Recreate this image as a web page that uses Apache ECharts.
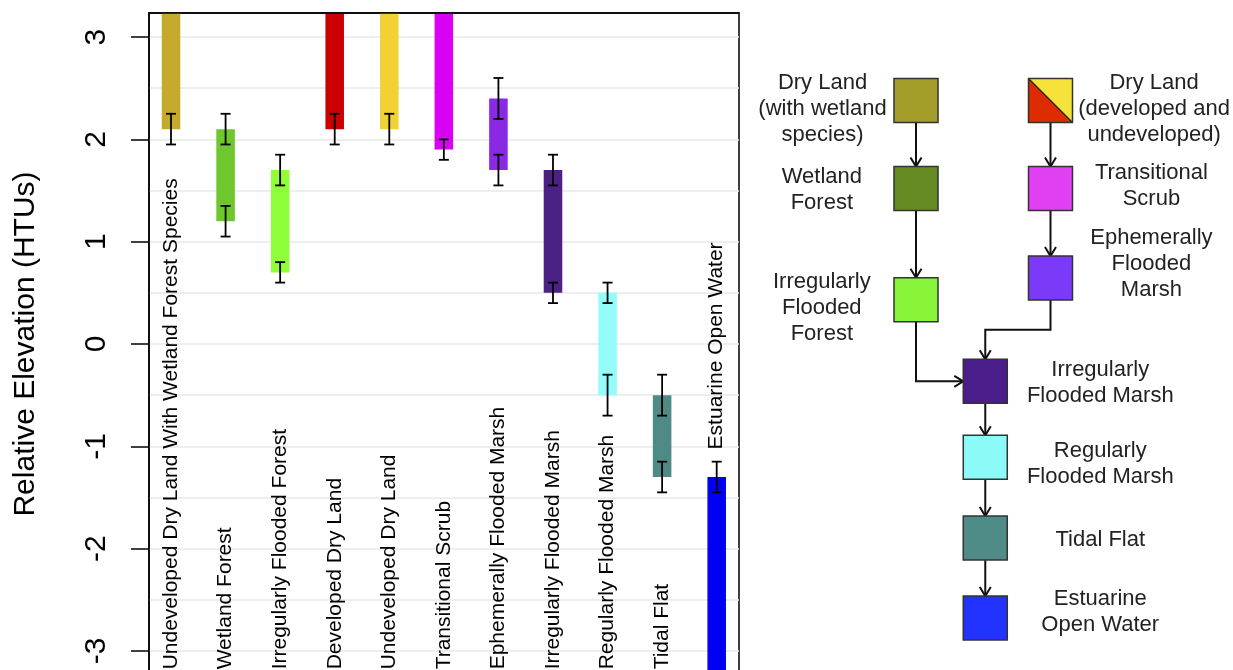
<!DOCTYPE html>
<html><head><meta charset="utf-8">
<script src="https://cdn.jsdelivr.net/npm/echarts@6/dist/echarts.min.js"></script>
<style>html,body{margin:0;padding:0;background:#fff}#c{width:1233px;height:670px}</style>
</head><body><div id="c"></div>
<script>
// ---------- bar chart data ----------
const categories = ["Undeveloped Dry Land With Wetland Forest Species","Wetland Forest","Irregularly Flooded Forest","Developed Dry Land","Undeveloped Dry Land","Transitional Scrub","Ephemerally Flooded Marsh","Irregularly Flooded Marsh","Regularly Flooded Marsh","Tidal Flat","Estuarine Open Water"];
const barLow  = [2.1, 1.2, 0.7, 2.1, 2.1, 1.9, 1.7, 0.5, -0.5, -1.3, -3.5];
const barHigh = [3.5, 2.1, 1.7, 3.5, 3.5, 3.5, 2.4, 1.7, 0.5, -0.5, -1.3];
const lowErr  = [0.15, 0.15, 0.1, 0.15, 0.15, 0.1, 0.15, 0.1, 0.2, 0.15, null];
const highErr = [null, 0.15, 0.15, null, null, null, 0.2, 0.15, 0.1, 0.2, 0.15];
const labelBase = [-3.18, -3.18, -3.18, -3.18, -3.18, -3.18, -3.18, -3.18, -3.18, -3.18, -1.03];
const barColors = ["#C6AA2C","#6FC72E","#8FFF3A","#CC0000","#F2D232","#DA00F5","#8A28E6","#4B2184","#94FCFA","#508A87","#0000F2"];
const yTicks = [-3, -2, -1, 0, 1, 2, 3];
const yTitle = "Relative Elevation (HTUs)";

// ---------- flow diagram data ----------
const nodeNames = ["Dry Land (with wetland species)","Wetland Forest","Irregularly Flooded Forest","Dry Land (developed and undeveloped)","Transitional Scrub","Ephemerally Flooded Marsh","Irregularly Flooded Marsh","Regularly Flooded Marsh","Tidal Flat","Estuarine Open Water"];
const nodeCols = [0, 0, 0, 2, 2, 2, 1.03, 1.03, 1.03, 1.03];
const nodeRows = [1.0, 2.1, 3.49, 1.0, 2.1, 3.22, 4.51, 5.46, 6.47, 7.47];
const nodeColors  = ["#A59D2A","#668B22","#88F53B","#DD2C00","#E140F2","#7B3AF7","#4A1E8A","#8CFBF8","#4F8C88","#2233FF"];
const nodeColors2 = [null,null,null,"#F5E33A",null,null,null,null,null,null];
const edgeFrom = [0, 1, 3, 4, 2, 5, 6, 7, 8];
const edgeTo   = [1, 2, 4, 5, 6, 6, 7, 8, 9];
const edgeKind = ["v","v","v","v","right","down","v","v","v"];
const flowLabels = ["Dry Land\n(with wetland\nspecies)","Wetland\nForest","Irregularly\nFlooded\nForest","Dry Land\n(developed and\nundeveloped)","Transitional\nScrub","Ephemerally\nFlooded\nMarsh","Irregularly\nFlooded Marsh","Regularly\nFlooded Marsh","Tidal Flat","Estuarine\nOpen Water"];
const flowLabelCols = [-1.39, -1.40, -1.40, 3.54, 3.50, 3.50, 2.74, 2.74, 2.74, 2.74];
const flowLabelRows = [1.10, 2.12, 3.59, 1.10, 2.07, 3.04, 4.53, 5.54, 6.49, 7.39];

const FONT = "'Liberation Sans', Arial, sans-serif";
const BAR_W = 0.34, CAP = 10, NODE = 44;

function renderBar(params, api) {
  const i = params.dataIndex;
  const x = api.value(0), lo = api.value(1), hi = api.value(2);
  const cs = params.coordSys;
  const pLo = api.coord([x, lo]), pHi = api.coord([x, hi]);
  const w = api.size([BAR_W, 0])[0];
  let top = Math.max(pHi[1], cs.y), bot = Math.min(pLo[1], cs.y + cs.height);
  const ch = [{type:'rect', shape:{x:pLo[0]-w/2, y:top, width:w, height:bot-top}, style:{fill:barColors[i]}}];
  const addErr = (v, e) => {
    if (e == null) return;
    const a = api.coord([x, v + e]), b = api.coord([x, v - e]);
    const st = {stroke:'#000', lineWidth:1.8};
    ch.push({type:'line', shape:{x1:a[0], y1:a[1], x2:b[0], y2:b[1]}, style:st});
    ch.push({type:'line', shape:{x1:a[0]-CAP/2, y1:a[1], x2:a[0]+CAP/2, y2:a[1]}, style:st});
    ch.push({type:'line', shape:{x1:b[0]-CAP/2, y1:b[1], x2:b[0]+CAP/2, y2:b[1]}, style:st});
  };
  addErr(lo, lowErr[i]);
  addErr(hi, highErr[i]);
  return {type:'group', children: ch};
}

function renderCatLabel(params, api) {
  const i = params.dataIndex;
  const p = api.coord([api.value(0), api.value(1)]);
  return {type:'text', x:p[0], y:p[1], rotation:Math.PI/2,
    style:{text:categories[i], fill:'#000', font:'21px ' + FONT, align:'left', verticalAlign:'middle'}};
}

function renderNode(params, api) {
  const i = params.dataIndex;
  const p = api.coord([api.value(0), api.value(1)]);
  const h = NODE/2, x0 = p[0]-h, y0 = p[1]-h;
  const ch = [];
  if (nodeColors2[i]) {
    ch.push({type:'polygon', shape:{points:[[x0,y0],[x0,y0+NODE],[x0+NODE,y0+NODE]]}, style:{fill:nodeColors[i]}});
    ch.push({type:'polygon', shape:{points:[[x0,y0],[x0+NODE,y0],[x0+NODE,y0+NODE]]}, style:{fill:nodeColors2[i]}});
    ch.push({type:'line', shape:{x1:x0,y1:y0,x2:x0+NODE,y2:y0+NODE}, style:{stroke:'#222', lineWidth:1.2}});
    ch.push({type:'rect', shape:{x:x0,y:y0,width:NODE,height:NODE}, style:{fill:null, stroke:'#333', lineWidth:1.5}});
  } else {
    ch.push({type:'rect', shape:{x:x0,y:y0,width:NODE,height:NODE}, style:{fill:nodeColors[i], stroke:'#333', lineWidth:1.5}});
  }
  return {type:'group', children: ch};
}

function renderEdge(params, api) {
  const k = params.dataIndex;
  const a = api.coord([api.value(0), api.value(1)]);
  const b = api.coord([api.value(2), api.value(3)]);
  const h = NODE/2;
  let pts, dir;
  if (edgeKind[k] === 'v') { pts = [[a[0], a[1]+h], [b[0], b[1]-h]]; dir = [0,1]; }
  else if (edgeKind[k] === 'right') { pts = [[a[0], a[1]+h], [a[0], b[1]], [b[0]-h, b[1]]]; dir = [1,0]; }
  else { const ym = ((a[1]+h) + (b[1]-h))/2; pts = [[a[0], a[1]+h], [a[0], ym], [b[0], ym], [b[0], b[1]-h]]; dir = [0,1]; }
  const tip = pts[pts.length-1];
  const L = 9, W = 5.5;
  const perp = [-dir[1], dir[0]];
  const head = [[tip[0]-dir[0]*L+perp[0]*W, tip[1]-dir[1]*L+perp[1]*W], tip, [tip[0]-dir[0]*L-perp[0]*W, tip[1]-dir[1]*L-perp[1]*W]];
  return {type:'group', children:[
    {type:'polyline', shape:{points:pts}, style:{stroke:'#111', lineWidth:2, fill:null}},
    {type:'polyline', shape:{points:head}, style:{stroke:'#111', lineWidth:2, fill:null}}
  ]};
}

function renderFlowLabel(params, api) {
  const i = params.dataIndex;
  const p = api.coord([api.value(0), api.value(1)]);
  return {type:'text', x:p[0], y:p[1],
    style:{text:flowLabels[i], fill:'#222', font:'22px ' + FONT, align:'center', verticalAlign:'middle', lineHeight:26}};
}

const chart = echarts.init(document.getElementById('c'), null, {renderer:'canvas', width:1233, height:670});
chart.setOption({
  animation: false,
  backgroundColor: '#fff',
  grid: [
    {left:149, top:13, width:590, height:662, show:true, borderColor:'#000', borderWidth:1.5, backgroundColor:'transparent', outerBoundsMode:'none', containLabel:false},
    {left:781.5, top:20.5, width:403.5, height:640, show:false, outerBoundsMode:'none', containLabel:false}
  ],
  xAxis: [
    {type:'value', gridIndex:0, min:-0.4032, max:10.4087, show:false},
    {type:'value', gridIndex:1, min:-2, max:4, show:false},
    {type:'value', gridIndex:0, min:-0.4032, max:10.4087, position:'top', z:10,
     axisLine:{show:true, onZero:false, lineStyle:{color:'#000', width:1.5}},
     axisTick:{show:false}, axisLabel:{show:false}, splitLine:{show:false}}
  ],
  yAxis: [
    {type:'value', gridIndex:0, min:-3.235, max:3.235, splitNumber:6, position:'left', z:10,
     axisLine:{show:true, onZero:false, lineStyle:{color:'#000', width:1.5}},
     axisTick:{show:true, length:18, lineStyle:{color:'#000', width:1.5}, customValues:yTicks},
     axisLabel:{show:true, rotate:90, margin:37, fontSize:30, color:'#000', fontFamily:FONT, customValues:yTicks,
       formatter: v => Math.abs(v - Math.round(v)) < 1e-6 ? String(Math.round(v)) : ''},
     splitLine:{show:false},
     name:yTitle, nameLocation:'middle', nameGap:108, nameRotate:90,
     nameTextStyle:{fontSize:30, color:'#000', fontFamily:FONT}},
    {type:'value', gridIndex:0, min:-3.235, max:3.235, splitNumber:13, position:'right',
     axisLine:{show:false}, axisTick:{show:false}, axisLabel:{show:false},
     splitLine:{show:true, showMinLine:false, showMaxLine:false, lineStyle:{color:'#e9e9e9', width:1.5}}},
    {type:'value', gridIndex:1, min:0, max:8, inverse:true, show:false}
  ],
  series: [
    {type:'custom', xAxisIndex:0, yAxisIndex:0, renderItem:renderBar,
     data: categories.map((c,i) => [i, barLow[i], barHigh[i]]), z:3},
    {type:'custom', xAxisIndex:0, yAxisIndex:0, renderItem:renderCatLabel,
     data: categories.map((c,i) => [i, labelBase[i]]), z:4},
    {type:'custom', xAxisIndex:1, yAxisIndex:2, renderItem:renderEdge,
     data: edgeFrom.map((f,k) => [nodeCols[f], nodeRows[f], nodeCols[edgeTo[k]], nodeRows[edgeTo[k]]]), z:3},
    {type:'custom', xAxisIndex:1, yAxisIndex:2, renderItem:renderNode,
     data: nodeNames.map((n,i) => [nodeCols[i], nodeRows[i]]), z:4},
    {type:'custom', xAxisIndex:1, yAxisIndex:2, renderItem:renderFlowLabel,
     data: flowLabels.map((t,i) => [flowLabelCols[i], flowLabelRows[i]]), z:4}
  ]
});
</script></body></html>
